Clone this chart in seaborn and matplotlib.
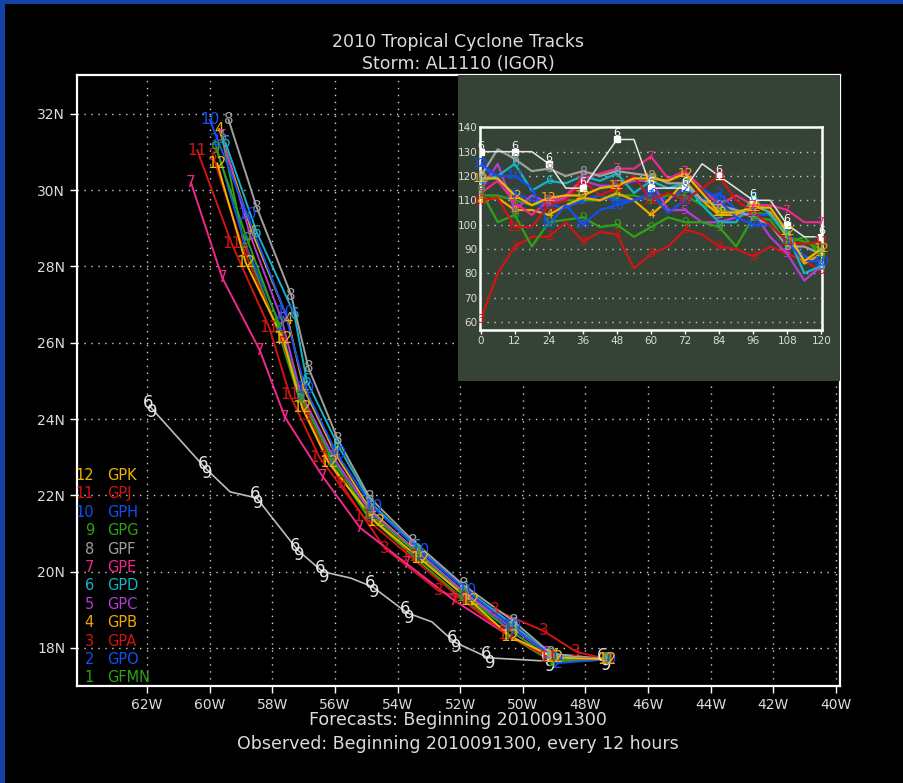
import matplotlib
matplotlib.use("Agg")
import matplotlib.pyplot as plt
import numpy as np
import pandas as pd
import seaborn as sns
from matplotlib.patches import Rectangle

# ---- data ------------------------------------------------------------------
MODEL_NUMS = ["1", "2", "3", "4", "5", "6", "7", "8", "9", "10", "11", "12"]
MODEL_NAMES = ["GFMN", "GPO", "GPA", "GPB", "GPC", "GPD", "GPE", "GPF", "GPG", "GPH", "GPJ", "GPK"]
MODEL_COLORS = ["#30a014", "#1450f0", "#d21414", "#f0a800", "#b43cd2", "#14b4c8",
                "#f0288c", "#a0a0a0", "#30a014", "#1450f0", "#d21414", "#f0b400"]

TRACK_HOURS = [0, 12, 24, 36, 48, 60, 72, 84, 96, 108, 120]

GFMN_LON = [-47.3, -49.1, -50.5, -52.0, -53.5, -55.0, -56.15, -57.15, -57.85, -58.9, -59.6]
GFMN_LAT = [17.7, 17.65, 18.35, 19.35, 20.4, 21.5, 22.9, 24.55, 26.4, 28.6, 31.35]
GPO_LON = [-47.3, -48.9, -50.3, -51.75, -53.25, -54.8, -56.05, -57.1, -57.75, -58.9, -59.85]
GPO_LAT = [17.7, 17.6, 18.4, 19.35, 20.45, 21.5, 22.95, 24.6, 26.45, 28.65, 31.3]
GPA_LON = [-47.3, -48.3, -49.35, -50.9, -52.7, -54.4, -55.8, -56.9, -57.7, -58.9, -59.9]
GPA_LAT = [17.7, 17.9, 18.45, 19.0, 19.5, 20.6, 22.3, 24.1, 26.1, 28.4, 30.9]
GPB_LON = [-47.3, -49.0, -50.3, -51.8, -53.35, -54.85, -56.0, -57.0, -57.5, -58.65, -59.7]
GPB_LAT = [17.7, 17.8, 18.5, 19.4, 20.5, 21.6, 23.1, 24.8, 26.6, 28.9, 31.6]
GPC_LON = [-47.3, -49.2, -50.4, -51.85, -53.5, -54.9, -56.05, -57.1, -57.7, -58.7, -59.6]
GPC_LAT = [17.7, 17.85, 18.55, 19.45, 20.6, 21.6, 23.0, 24.7, 26.6, 28.8, 31.4]
GPD_LON = [-47.3, -49.1, -50.3, -51.85, -53.4, -54.85, -55.9, -56.9, -57.3, -58.5, -59.5]
GPD_LAT = [17.7, 17.8, 18.6, 19.55, 20.65, 21.8, 23.3, 25.0, 26.75, 28.9, 31.25]
GPE_LON = [-47.3, -49.1, -50.6, -52.2, -53.7, -55.2, -56.4, -57.6, -58.4, -59.6, -60.6]
GPE_LAT = [17.7, 17.75, 18.4, 19.25, 20.2, 21.15, 22.5, 24.05, 25.8, 27.7, 30.2]
GPF_LON = [-47.3, -49.1, -50.3, -51.9, -53.5, -54.9, -55.9, -56.85, -57.4, -58.5, -59.4]
GPF_LAT = [17.7, 17.85, 18.7, 19.65, 20.8, 21.95, 23.45, 25.35, 27.25, 29.55, 31.85]
GPG_LON = [-47.3, -49.05, -50.4, -51.9, -53.4, -54.95, -56.1, -57.1, -57.8, -58.8, -59.8]
GPG_LAT = [17.7, 17.7, 18.45, 19.4, 20.5, 21.55, 22.95, 24.6, 26.5, 28.7, 31.1]
GPH_LON = [-47.3, -49.0, -50.35, -51.8, -53.3, -54.8, -55.95, -56.95, -57.6, -58.8, -60.0]
GPH_LAT = [17.7, 17.75, 18.55, 19.5, 20.55, 21.7, 23.1, 24.8, 26.8, 29.35, 31.85]
GPJ_LON = [-47.3, -49.2, -50.5, -52.0, -53.6, -55.1, -56.5, -57.45, -58.1, -59.3, -60.4]
GPJ_LAT = [17.7, 17.75, 18.35, 19.3, 20.4, 21.45, 23.0, 24.65, 26.4, 28.6, 31.05]
GPK_LON = [-47.3, -49.0, -50.4, -51.7, -53.3, -54.7, -56.2, -57.05, -57.66, -58.85, -59.76]
GPK_LAT = [17.7, 17.75, 18.3, 19.25, 20.35, 21.3, 22.85, 24.3, 26.1, 28.1, 30.7]

OBS_LON = [-47.4, -49.2, -51.1, -52.2, -52.9, -53.7, -54.8, -55.5, -56.4, -57.2, -58.5, -59.35, -60.15, -61.9]
OBS_LAT = [17.68, 17.65, 17.74, 18.16, 18.68, 18.92, 19.6, 19.83, 20.0, 20.57, 21.93, 22.09, 22.72, 24.32]
OBS_IS_12H = [1, 1, 1, 1, 0, 1, 1, 0, 1, 1, 1, 0, 1, 1]

# intensity (kt), every 6 hours
INT_HOURS = [0, 6, 12, 18, 24, 30, 36, 42, 48, 54, 60, 66, 72, 78, 84, 90, 96, 102, 108, 114, 120]
OBS_VMAX = [130, 130, 130, 130, 125, 115, 115, 125, 135, 135, 115, 115, 115, 125, 120, 115, 110, 110, 100, 95, 95]
GFMN_VMAX = [112, 112, 110, 108, 110, 110, 110, 110, 112, 112, 110, 112, 112, 108, 106, 106, 105, 104, 95, 93, 90]
GPO_VMAX = [125, 118, 113, 110, 108, 107, 110, 112, 110, 110, 112, 110, 115, 110, 113, 106, 104, 104, 96, 87, 85]
GPA_VMAX = [61, 80, 91, 95, 95, 101, 93, 97, 96, 82, 88, 91, 98, 96, 91, 90, 87, 91, 88, 85, 81]
GPB_VMAX = [110, 111, 106, 106, 104, 108, 111, 110, 113, 110, 104, 110, 118, 110, 104, 104, 108, 105, 95, 84, 88]
GPC_VMAX = [114, 125, 106, 112, 109, 111, 118, 116, 116, 118, 118, 106, 106, 101, 101, 103, 105, 95, 88, 77, 83]
GPD_VMAX = [118, 120, 125, 114, 118, 117, 120, 118, 121, 113, 118, 115, 117, 108, 101, 101, 111, 104, 96, 80, 83]
GPE_VMAX = [113, 118, 109, 104, 110, 112, 119, 121, 123, 123, 128, 119, 122, 115, 108, 112, 108, 108, 106, 101, 101]
GPF_VMAX = [120, 131, 127, 122, 123, 120, 122, 120, 122, 121, 120, 117, 117, 110, 108, 106, 103, 100, 91, 91, 88]
GPG_VMAX = [114, 101, 104, 91, 101, 102, 103, 99, 100, 95, 99, 103, 101, 101, 99, 91, 103, 102, 92, 95, 87]
GPH_VMAX = [125, 120, 120, 115, 100, 108, 100, 106, 108, 110, 113, 105, 110, 115, 110, 103, 100, 100, 93, 85, 85]
GPJ_VMAX = [110, 111, 99, 99, 108, 110, 118, 112, 115, 120, 110, 113, 110, 115, 120, 110, 105, 100, 93, 92, 93]
GPK_VMAX = [119, 119, 112, 108, 111, 112, 112, 115, 116, 119, 119, 118, 121, 113, 105, 105, 107, 107, 97, 85, 90]

LON_TICKS = [-62, -60, -58, -56, -54, -52, -50, -48, -46, -44, -42, -40]
LAT_TICKS = [18, 20, 22, 24, 26, 28, 30, 32]
INT_X_TICKS = [0, 12, 24, 36, 48, 60, 72, 84, 96, 108, 120]
INT_Y_TICKS = [60, 70, 80, 90, 100, 110, 120, 130, 140]

TITLE = "2010 Tropical Cyclone Tracks"
SUBTITLE = "Storm: AL1110 (IGOR)"
FOOT1 = "Forecasts: Beginning 2010091300"
FOOT2 = "Observed: Beginning 2010091300, every 12 hours"

W, H = 904, 783
TXT = "#dcdcdc"
PANEL = "#354236"


def fx(px):
    return px / W


def fy(py):
    return 1 - py / H


def main() -> None:
    lons = [GFMN_LON, GPO_LON, GPA_LON, GPB_LON, GPC_LON, GPD_LON,
            GPE_LON, GPF_LON, GPG_LON, GPH_LON, GPJ_LON, GPK_LON]
    lats = [GFMN_LAT, GPO_LAT, GPA_LAT, GPB_LAT, GPC_LAT, GPD_LAT,
            GPE_LAT, GPF_LAT, GPG_LAT, GPH_LAT, GPJ_LAT, GPK_LAT]
    vmax = [GFMN_VMAX, GPO_VMAX, GPA_VMAX, GPB_VMAX, GPC_VMAX, GPD_VMAX,
            GPE_VMAX, GPF_VMAX, GPG_VMAX, GPH_VMAX, GPJ_VMAX, GPK_VMAX]

    tracks = pd.concat(
        [pd.DataFrame({"model": name, "hour": TRACK_HOURS, "lon": lo, "lat": la})
         for name, lo, la in zip(MODEL_NAMES, lons, lats)],
        ignore_index=True,
    )
    inten = pd.concat(
        [pd.DataFrame({"model": name, "hour": INT_HOURS, "vmax": v})
         for name, v in zip(MODEL_NAMES, vmax)],
        ignore_index=True,
    )
    palette = dict(zip(MODEL_NAMES, MODEL_COLORS))

    plt.rcParams["font.family"] = ["DejaVu Sans"]
    fig = plt.figure(figsize=(W / 100, H / 100), dpi=100, facecolor="black")
    fig.patches.append(Rectangle((0, fy(4)), 1, 4 / H, transform=fig.transFigure,
                                 facecolor="#1442a6", edgecolor="none", zorder=0))
    fig.patches.append(Rectangle((0, 0), fx(5), 1, transform=fig.transFigure,
                                 facecolor="#1442a6", edgecolor="none", zorder=0))

    # ---- map of tracks ----
    ax = fig.add_axes([fx(77), fy(686), fx(840) - fx(77), (686 - 75) / H], facecolor="black")
    ax.set_xlim(-64.24, -39.87)
    ax.set_ylim(17.0, 33.02)
    ax.set_xticks(LON_TICKS)
    ax.set_xticklabels([f"{abs(v)}W" for v in LON_TICKS])
    ax.set_yticks(LAT_TICKS)
    ax.set_yticklabels([f"{v}N" for v in LAT_TICKS])
    ax.tick_params(colors="white", labelcolor=TXT, labelsize=10, length=5, width=1, direction="out")
    for sp in ax.spines.values():
        sp.set_color("white")
        sp.set_linewidth(1.6)
    ax.grid(True, color="#d0d0d0", linestyle=(0, (1, 4)), linewidth=1)
    ax.set_axisbelow(True)
    ax.set_xlabel("")
    ax.set_ylabel("")

    sns.lineplot(data=pd.DataFrame({"lon": OBS_LON, "lat": OBS_LAT}), x="lon", y="lat",
                 sort=False, estimator=None, color="#bdbdbd", linewidth=1.2, ax=ax)
    for lo, la, flag in zip(OBS_LON, OBS_LAT, OBS_IS_12H):
        if flag:
            ax.annotate("6", (lo, la), xytext=(-2, 4), textcoords="offset pixels",
                        ha="center", va="center", fontsize=12, color="#e6e6e6")
            ax.annotate("9", (lo, la), xytext=(2, -5), textcoords="offset pixels",
                        ha="center", va="center", fontsize=12, color="#e6e6e6")

    sns.lineplot(data=tracks, x="lon", y="lat", hue="model", hue_order=MODEL_NAMES,
                 palette=palette, sort=False, estimator=None, linewidth=1.4,
                 legend=False, ax=ax)
    for num, col, lo, la in zip(MODEL_NUMS, MODEL_COLORS, lons, lats):
        for x, y in zip(lo, la):
            ax.text(x, y, num, color=col, fontsize=11, ha="center", va="center")
    ax.set_xlabel("")
    ax.set_ylabel("")

    # legend (model numbers and ids)
    for i, (num, name, col) in enumerate(zip(MODEL_NUMS, MODEL_NAMES, MODEL_COLORS)):
        y = 678 - i * 18.4
        fig.text(fx(94), fy(y), num, color=col, fontsize=10.5, ha="right", va="center")
        fig.text(fx(107), fy(y), name, color=col, fontsize=10.5, ha="left", va="center")

    # ---- intensity inset ----
    panel = fig.add_axes([fx(458), fy(381), fx(840) - fx(458), (381 - 75) / H], facecolor=PANEL)
    panel.set_xticks([])
    panel.set_yticks([])
    for sp in panel.spines.values():
        sp.set_visible(False)

    ins = fig.add_axes([fx(480), fy(330), fx(822) - fx(480), (330 - 126.7) / H], facecolor=PANEL)
    ins.set_xlim(-0.25, 120.25)
    ins.set_ylim(56.7, 140.25)
    ins.set_xticks(INT_X_TICKS)
    ins.set_yticks(INT_Y_TICKS)
    ins.tick_params(colors="white", labelcolor=TXT, labelsize=7.5, length=3, width=1, pad=1.5)
    ins.tick_params(axis="y", length=0, pad=2)
    for sp in ins.spines.values():
        sp.set_color("white")
        sp.set_linewidth(1.8)
    ins.grid(True, axis="y", color="#c8c8c8", linestyle=(0, (1, 4)), linewidth=1)
    ins.set_axisbelow(True)

    sns.lineplot(data=inten, x="hour", y="vmax", hue="model", hue_order=MODEL_NAMES,
                 palette=palette, estimator=None, linewidth=1.6, legend=False, ax=ins)
    for num, col, v in zip(MODEL_NUMS, MODEL_COLORS, vmax):
        for h, val in zip(INT_HOURS[::2], v[::2]):
            ins.text(h, val, num, color=col, fontsize=9, ha="center", va="center")
    sns.lineplot(x=INT_HOURS, y=OBS_VMAX, color="#e8e8e8", linewidth=1.1,
                 estimator=None, ax=ins)
    ins.plot(INT_HOURS[::2], OBS_VMAX[::2], linestyle="none", marker="s",
             markersize=5, color="white")
    for h, val in zip(INT_HOURS[::2], OBS_VMAX[::2]):
        ins.text(h, val + 2.5, "6", color="white", fontsize=8, ha="center", va="center")
    ins.set_xlabel("")
    ins.set_ylabel("")

    # ---- titles ----
    fig.text(fx(458), fy(42), TITLE, color=TXT, fontsize=12.5, ha="center", va="center")
    fig.text(fx(458), fy(64), SUBTITLE, color=TXT, fontsize=12.5, ha="center", va="center")
    fig.text(fx(458), fy(720), FOOT1, color=TXT, fontsize=12.5, ha="center", va="center")
    fig.text(fx(458), fy(744), FOOT2, color=TXT, fontsize=12.5, ha="center", va="center")

    fig.savefig("out.png", dpi=100, facecolor="black")


if __name__ == "__main__":
    main()
